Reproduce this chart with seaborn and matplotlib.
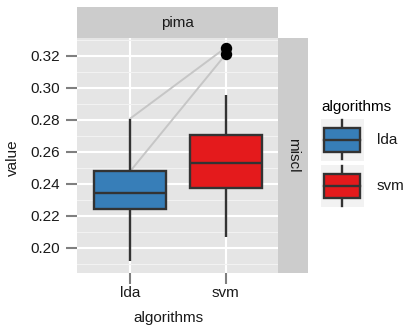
import matplotlib
matplotlib.use("Agg")
import matplotlib.pyplot as plt
import pandas as pd
import seaborn as sns
from matplotlib.legend_handler import HandlerBase
from matplotlib.patches import Rectangle, Patch
from matplotlib.lines import Line2D

# ---- data -------------------------------------------------------------
algorithms = ["lda", "svm"]
task_label = "pima"
measure_label = "miscl"

lda_miscl = [0.1914, 0.2080, 0.2160, 0.2210, 0.2230, 0.2246, 0.2270,
             0.2295, 0.2320, 0.2330, 0.2348, 0.2370, 0.2400, 0.2440,
             0.2476, 0.2488, 0.2540, 0.2600, 0.2680, 0.2806]
svm_miscl = [0.2064, 0.2190, 0.2270, 0.2320, 0.2360, 0.2376, 0.2410,
             0.2450, 0.2490, 0.2518, 0.2540, 0.2580, 0.2625, 0.2660,
             0.2695, 0.2723, 0.2790, 0.2954, 0.3208, 0.3250]

# paired results joined by grey lines (lda value -> svm value)
pair_lda = [0.2806, 0.2476]
pair_svm = [0.3250, 0.3208]

y_ticks = [0.20, 0.22, 0.24, 0.26, 0.28, 0.30, 0.32]
y_minor = [0.19, 0.21, 0.23, 0.25, 0.27, 0.29, 0.31, 0.33]

palette = {"lda": "#377EB8", "svm": "#E41A1C"}

df = pd.DataFrame({
    "algorithms": ["lda"] * len(lda_miscl) + ["svm"] * len(svm_miscl),
    "value": lda_miscl + svm_miscl,
})

# ---- style ------------------------------------------------------------
plt.rcParams["font.family"] = ["Liberation Sans", "DejaVu Sans"]
TXT = "#1A1A1A"
EDGE = "#333333"


class BoxKeyHandler(HandlerBase):
    """Legend key drawn as a small boxplot glyph on a grey tile."""

    def create_artists(self, legend, orig_handle, xdescent, ydescent,
                       width, height, fontsize, trans):
        x0, y0 = -xdescent, -ydescent
        bg = Rectangle((x0, y0), width, height, facecolor="#F2F2F2",
                       edgecolor="none", transform=trans)
        bw, bh = width * 0.84, height * 0.57
        bx, by = x0 + (width - bw) / 2, y0 + (height - bh) / 2
        cx = x0 + width / 2
        lo = Line2D([cx, cx], [y0 + height * 0.03, by], color=EDGE,
                    lw=1.7, transform=trans)
        hi = Line2D([cx, cx], [by + bh, y0 + height * 0.97], color=EDGE,
                    lw=1.7, transform=trans)
        box = Rectangle((bx, by), bw, bh,
                        facecolor=orig_handle.get_facecolor(),
                        edgecolor=EDGE, linewidth=1.7, transform=trans)
        med = Line2D([bx, bx + bw], [y0 + height / 2] * 2, color=EDGE,
                     lw=1.7, transform=trans)
        return [bg, lo, hi, box, med]


W, H = 408, 326
fig = plt.figure(figsize=(W / 100, H / 100), dpi=100)

px_l, px_r, px_t, px_b = 77.3, 278.3, 37.7, 272.7
ax = fig.add_axes([px_l / W, 1 - px_b / H, (px_r - px_l) / W, (px_b - px_t) / H])
ax.set_facecolor("#E5E5E5")

sns.boxplot(data=df, x="algorithms", y="value", hue="algorithms",
            order=algorithms, hue_order=algorithms, palette=palette,
            saturation=1, width=0.75, linewidth=1.7, linecolor=EDGE,
            showcaps=False, fliersize=7.2,
            flierprops=dict(marker="o", markerfacecolor="black",
                            markeredgecolor="black"),
            legend=False, ax=ax)

for a, b in zip(pair_lda, pair_svm):
    ax.plot([algorithms.index("lda"), algorithms.index("svm")], [a, b],
            color="#C6C6C6", lw=1.4, zorder=1.5, solid_capstyle="round")

ax.set_xlim(-0.55, 1.55)
ax.set_ylim(0.184375, 0.33125)
ax.set_yticks(y_ticks)
ax.set_yticklabels([f"{v:.2f}" for v in y_ticks])
ax.set_yticks(y_minor, minor=True)
ax.set_axisbelow(True)
ax.grid(which="major", color="white", lw=1.5)
ax.grid(which="minor", axis="y", color="#F2F2F2", lw=0.8)
ax.tick_params(which="minor", length=0)
ax.tick_params(which="major", length=8, width=1.5, color="#7F7F7F",
               labelsize=11, labelcolor=TXT)
ax.tick_params(axis="y", pad=4.2)
ax.tick_params(axis="x", pad=1.5)
for s in ax.spines.values():
    s.set_visible(False)

ax.set_xlabel("algorithms", fontsize=11, color=TXT, va="baseline")
ax.xaxis.set_label_coords((168 - px_l) / (px_r - px_l),
                          -(321.7 - px_b) / (px_b - px_t))
ax.set_ylabel("value", fontsize=11, color=TXT, va="baseline", ha="center",
              rotation_mode="anchor")
ax.yaxis.set_label_coords(-(px_l - 16.7) / (px_r - px_l), 0.49)

# facet strips
top = fig.add_axes([px_l / W, 1 - px_t / H, (px_r - px_l) / W, (px_t - 7.3) / H])
right = fig.add_axes([px_r / W, 1 - px_b / H, (307.5 - px_r) / W, (px_b - px_t) / H])
for s_ax in (top, right):
    s_ax.set_facecolor("#CCCCCC")
    s_ax.set_xticks([])
    s_ax.set_yticks([])
    for s in s_ax.spines.values():
        s.set_visible(False)
top.text(0.5, 0.5, task_label, ha="center", va="center", fontsize=11,
         color=TXT, transform=top.transAxes)
right.text(0.5, 0.5, measure_label, ha="center", va="center", fontsize=11,
           color=TXT, rotation=-90, transform=right.transAxes)

handles = [Patch(facecolor=palette[a], edgecolor=EDGE, label=a) for a in algorithms]
fig.legend(handles=handles, labels=algorithms, title="algorithms",
           loc="upper left", bbox_to_anchor=(321 / W, 1 - 100 / H),
           frameon=False, handler_map={Patch: BoxKeyHandler()},
           handlelength=2.8, handleheight=3.85, labelspacing=0.3,
           handletextpad=0.85, borderpad=0, borderaxespad=0,
           fontsize=11, title_fontsize=11, alignment="left",
           labelcolor=TXT)

fig.savefig("out.png", dpi=100)
